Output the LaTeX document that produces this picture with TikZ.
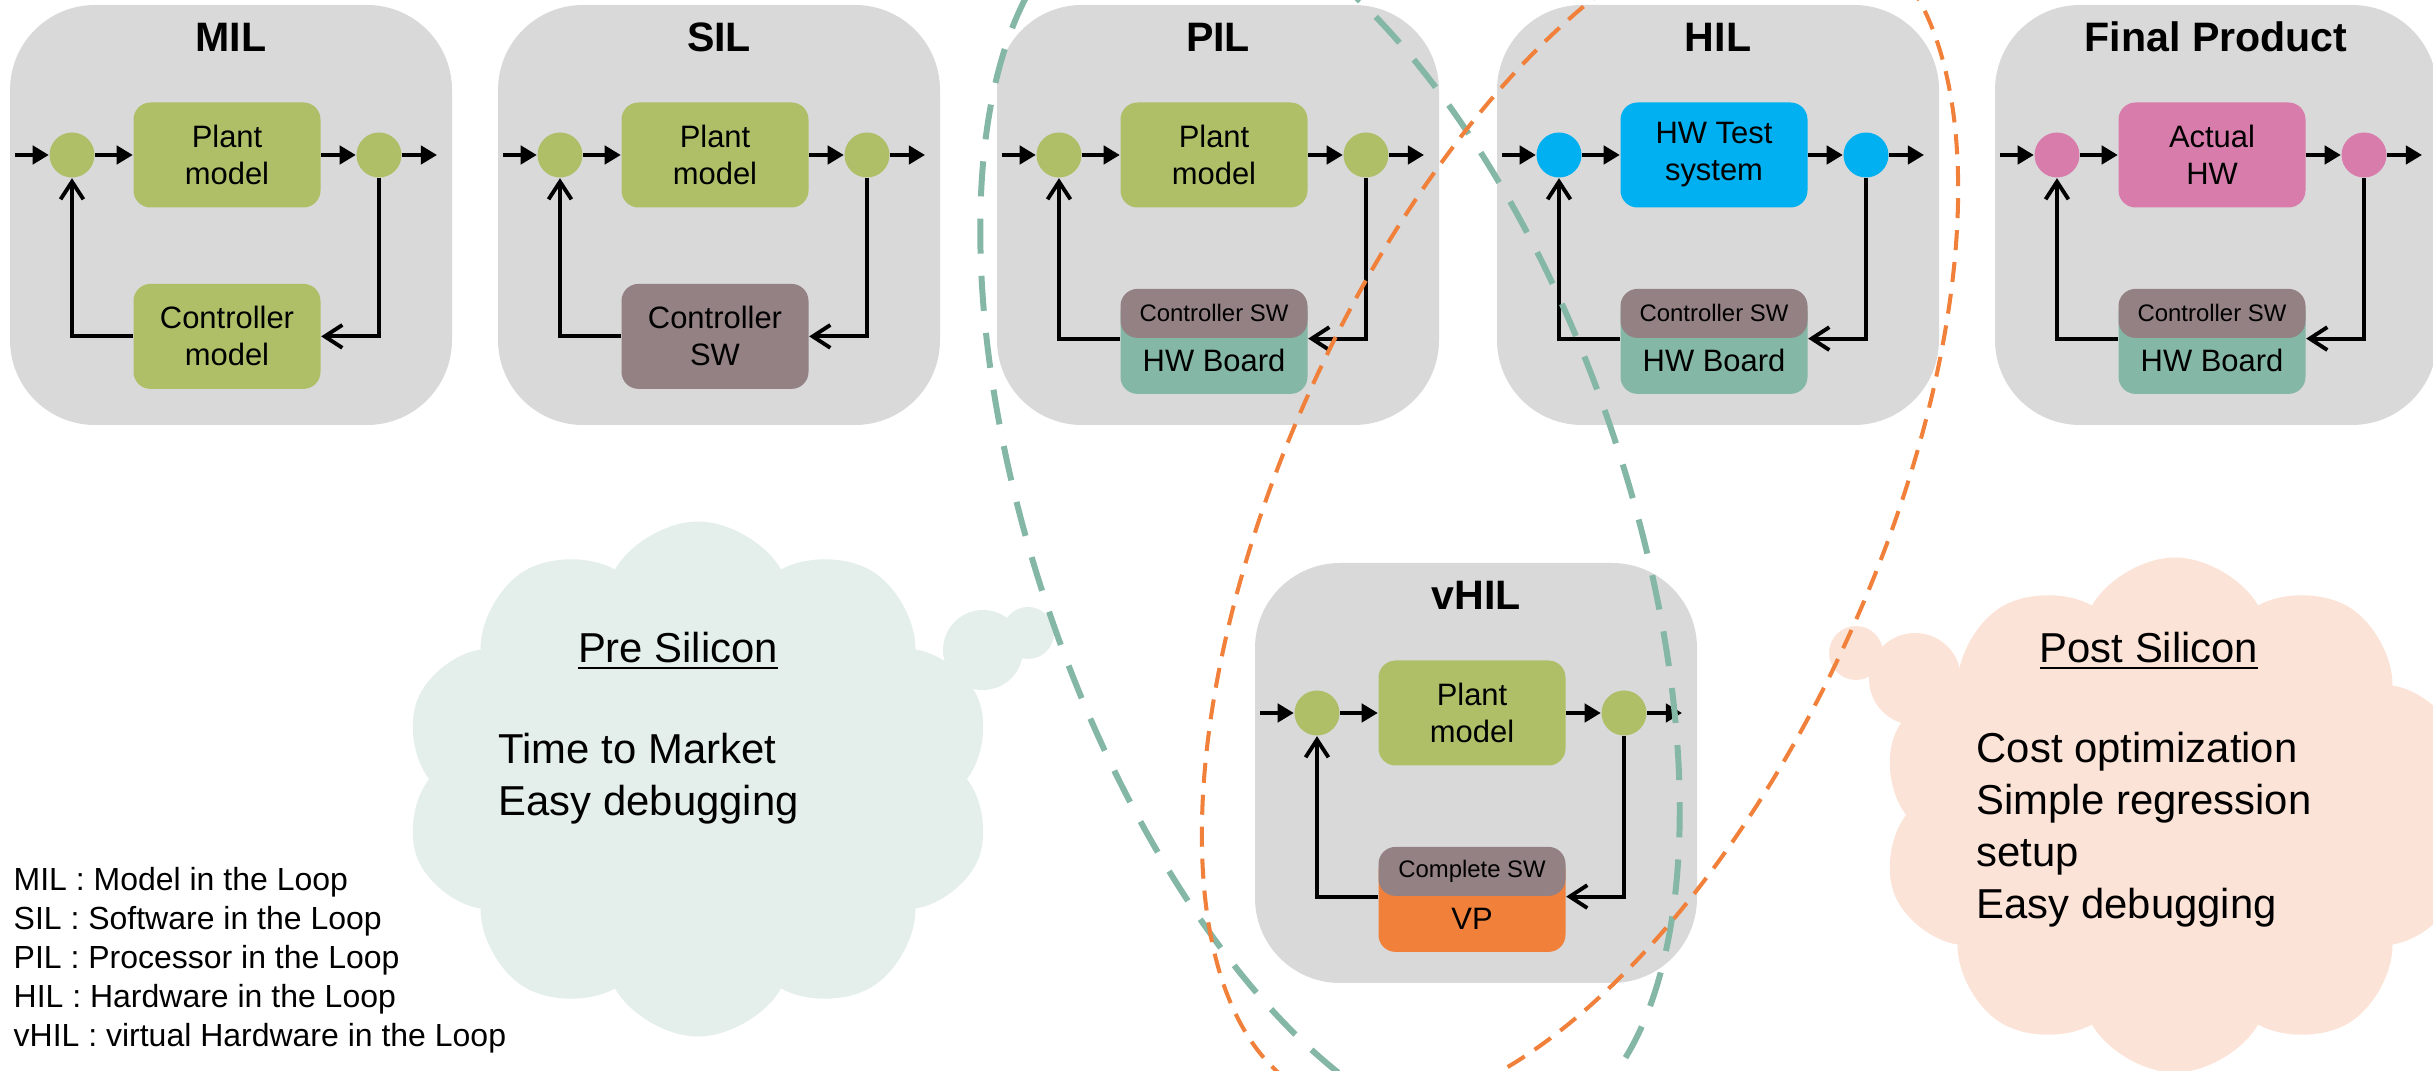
\documentclass[tikz,border=0pt]{standalone}
\usepackage{fontspec}
\setmainfont{Liberation Sans}
\usepackage{tikz}
\usetikzlibrary{arrows.meta}
\usetikzlibrary{positioning, shapes.symbols}
\definecolor{panelgray}{RGB}{217,217,217}
\definecolor{plantgreen}{RGB}{175,191,104}
\definecolor{swmauve}{RGB}{147,129,131}
\definecolor{boardteal}{RGB}{132,183,166}
\definecolor{hilcyan}{RGB}{0,176,240}
\definecolor{hwpink}{RGB}{216,124,172}
\definecolor{vporange}{RGB}{240,128,58}
\definecolor{precloud}{RGB}{228,239,235}
\definecolor{postcloud}{RGB}{252,227,215}

\begin{document}
\begin{tikzpicture}[
	panel/.style={fill=panelgray, rounded corners=0.85cm, minimum width=4.42cm, minimum height=4.2cm, inner sep=0},
	heading/.style={font=\bfseries\fontsize{11.7}{14}\selectfont, anchor=base, inner sep=0},
	blob/.style={circle, minimum size=0.45cm, inner sep=0},
	block/.style={rounded corners=0.17cm, minimum width=1.87cm, minimum height=1.05cm, inner sep=0, align=center, font=\fontsize{8.8}{10.5}\selectfont},
	swbar/.style={block, fill=swmauve, minimum height=0.49cm, font=\fontsize{6.8}{8}\selectfont},
	boardbox/.style={block, minimum height=0.98cm, text height=0.54cm, text depth=0pt},
	flow/.style={line width=1.1pt, -{Triangle[length=4.6pt, width=5.2pt]}},
	back/.style={line width=1.1pt, -{Straight Barb[length=5pt, width=6.5pt]}},
	thought/.style={cloud, cloud puffs=10, cloud puff arc=120, cloud ignores aspect, minimum width=5.9cm, minimum height=5.15cm, inner sep=0},
	cloudtext/.style={font=\fontsize{11.9}{14.8}\selectfont, align=left, inner sep=0},
]

	\useasboundingbox (0,0) rectangle (24.33,10.71);
	\clip (0,0) rectangle (24.33,10.71);

	% the six loops
	\foreach \pn/\px/\py/\ttl/\col/\plant in {
			mil/0.10/6.46/MIL/plantgreen/{Plant\\model},
			sil/4.98/6.46/SIL/plantgreen/{Plant\\model},
			pil/9.97/6.46/PIL/plantgreen/{Plant\\model},
			hil/14.97/6.46/HIL/hilcyan/{HW Test\\system},
			fin/19.95/6.46/Final Product/hwpink/{Actual\\HW},
			vhil/12.55/0.88/vHIL/plantgreen/{Plant\\model}}{
		\begin{scope}[shift={(\px,\py)}]
			\node[panel] (\pn) at (2.21,2.1) {};
			\node[heading] (\pn-title) at (2.21,3.735) {\ttl};
			\node[blob, fill=\col] (\pn-in) at (0.62,2.7) {};
			\node[block, fill=\col] (\pn-plant) at (2.17,2.7) {\plant};
			\node[blob, fill=\col] (\pn-out) at (3.69,2.7) {};
			\coordinate (\pn-start) at (0.05,2.7);
			\coordinate (\pn-end) at (4.27,2.7);
		\end{scope}
	}

	\node[block, fill=plantgreen, below=0.75cm of mil-plant] (mil-ctrl) {Controller\\model};
	\node[block, fill=swmauve, below=0.75cm of sil-plant] (sil-ctrl) {Controller\\SW};
	\foreach \pn in {pil, hil, fin}{
		\node[boardbox, fill=boardteal, below=0.87cm of \pn-plant] (\pn-board) {HW Board};
		\node[swbar, below=0.80cm of \pn-plant] (\pn-ctrl) {Controller SW};
	}
	\node[boardbox, fill=vporange, below=0.87cm of vhil-plant] (vhil-board) {VP};
	\node[swbar, below=0.80cm of vhil-plant] (vhil-ctrl) {Complete SW};

	\foreach \pn/\a/\b in {mil/east/west, sil/east/west, pil/south east/south west, hil/south east/south west, fin/south east/south west, vhil/south east/south west}{
		\draw[flow] (\pn-start) -- (\pn-in);
		\draw[flow] (\pn-in) -- (\pn-plant);
		\draw[flow] (\pn-plant) -- (\pn-out);
		\draw[flow] (\pn-out) -- (\pn-end);
		\draw[back] (\pn-out) |- (\pn-ctrl.\a);
		\draw[back] (\pn-ctrl.\b) -| (\pn-in);
	}

	% clouds with their little tail bubbles
	\node[thought, fill=precloud] (pre) at (6.98,2.92) {};
	\fill[precloud] (9.83,4.21) circle (0.40);
	\fill[precloud] (10.28,4.38) circle (0.26);
	\node[thought, fill=postcloud] (post) at (21.75,2.56) {};
	\fill[postcloud] (19.15,3.92) circle (0.46);
	\fill[postcloud] (18.56,4.18) circle (0.27);

	\node[cloudtext, anchor=base] (pre-title) at (6.78,4.085) {\underline{Pre Silicon}};
	\node[cloudtext, anchor=west] (pre-text) at (4.98,2.92) {Time to Market\\Easy debugging};
	\node[cloudtext, anchor=base] (post-title) at (21.49,4.085) {\underline{Post Silicon}};
	\node[cloudtext, anchor=west] (post-text) at (19.76,2.415) {Cost optimization\\Simple regression\\setup\\Easy debugging};

	\node[anchor=west, align=left, inner sep=0, font=\fontsize{9.1}{11.1}\selectfont] (legend) at (0.13,1.11) {MIL : Model in the Loop\\SIL : Software in the Loop\\PIL : Processor in the Loop\\HIL : Hardware in the Loop\\vHIL : virtual Hardware in the Loop};

	% pre / post silicon rings
	\draw[boardteal, line width=1.7pt, dash pattern=on 10pt off 6.3pt, rotate around={-71:(13.30,5.51)}] (13.30,5.51) ellipse (6.46 and 2.955);
	\draw[vporange, line width=1.15pt, dash pattern=on 5.7pt off 3.4pt, rotate around={65.6:(15.80,5.59)}] (15.80,5.59) ellipse (6.42 and 2.96);

\end{tikzpicture}
\end{document}
